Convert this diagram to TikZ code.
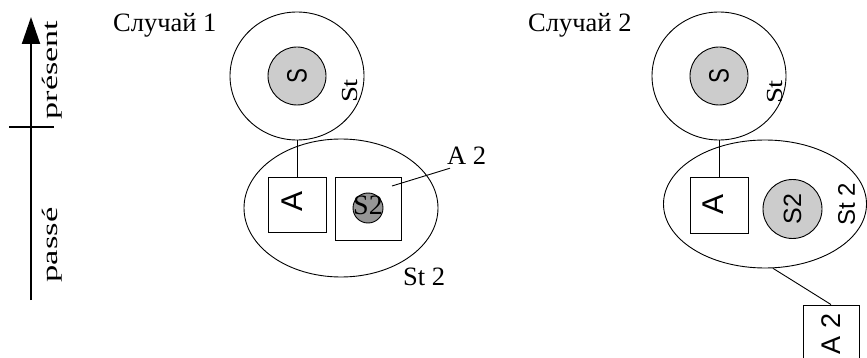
\documentclass[tikz,border=0pt]{standalone}
\usepackage{fontspec}
\setmainfont{Liberation Serif}
\newfontfamily\sansf{Liberation Sans}
\usetikzlibrary{shapes.geometric,arrows.meta}
\definecolor{lgray}{RGB}{204,204,204}
\definecolor{dgray}{RGB}{150,150,150}
\newcommand{\fsz}[1]{\fontsize{#1}{#1}\selectfont}
\begin{document}
\begin{tikzpicture}[x=1pt,y=-1pt,
  thinline/.style={line width=0.9pt},
  ell/.style={ellipse, draw, thinline, inner sep=0pt},
  disc/.style={ellipse, draw, thinline, fill=lgray, inner sep=0pt},
  boxn/.style={rectangle, draw, thinline, inner sep=0pt},
  lbl/.style={inner sep=0pt, font=\fsz{26.5}},
  vlbl/.style={inner sep=0pt, rotate=90},
]
\useasboundingbox (0,0) rectangle (867,358);
% timeline
\coordinate (tbot) at (31,300);
\coordinate (ttop) at (31,17);
\draw[line width=2pt,-{Triangle[length=27pt,width=18pt]}] (tbot) -- (ttop);
\coordinate (tickl) at (9,127);
\coordinate (tickr) at (54,127);
\draw[line width=2pt] (tickl) -- (tickr);
\node[vlbl] (present) at (52.5,70) {\fsz{22}\scalebox{1.55}[1]{présent}};
\node[vlbl] (passe) at (52.5,245) {\fsz{22}\scalebox{1.57}[1]{passé}};
% case 1
\node[lbl, anchor=base west] (title1) at (113,32) {Случай 1};
\node[ell, minimum width=134pt, minimum height=128pt] (st1) at (297,76) {};
\node[disc, minimum size=58pt] (s1) at (297,76) {\rotatebox{90}{\sansf\fsz{28}\scalebox{0.8}[1]{S}}};
\node[vlbl] (st1lab) at (350,91) {\fsz{23}\scalebox{1.25}[1]{St}};
\node[ell, minimum width=194pt, minimum height=138pt] (st21) at (341,208) {};
\node[boxn, minimum width=58pt, minimum height=55pt] (a1) at (297,204.5) {};
\node[vlbl] (a1lab) at (292,201) {\sansf\fsz{30}A};
\node[boxn, minimum width=66pt, minimum height=63pt] (a21) at (368,208.5) {};
\node[disc, fill=dgray, minimum size=30pt] (s21) at (368,208) {};
\node[inner sep=0pt] (s21lab) at (368,205.5) {\fsz{28}S2};
\coordinate (a21p) at (392,186);
\node[lbl, anchor=base west] (a2lab) at (447,165) {A 2};
\draw[thinline] (a21p) -- ([shift={(3,3)}]a2lab.south west);
\node[lbl, anchor=base west] (st21lab) at (403,285) {St 2};
\draw[thinline] (st1.south) -- (a1.north);
% case 2
\node[lbl, anchor=base west] (title2) at (528,32) {Случай 2};
\node[ell, minimum width=134pt, minimum height=128pt] (st2) at (719,76) {};
\node[disc, minimum size=58pt] (s2) at (719,76) {\rotatebox{90}{\sansf\fsz{28}\scalebox{0.8}[1]{S}}};
\node[vlbl] (st2lab) at (775,92) {\fsz{23}\scalebox{1.25}[1]{St}};
\node[ell, minimum width=203pt, minimum height=128pt] (st22) at (765,204) {};
\node[boxn, minimum width=58pt, minimum height=56pt] (a2) at (719,205) {};
\node[vlbl] (a2lab2) at (713,204) {\sansf\fsz{30}A};
\node[disc, minimum size=59pt] (s22) at (792.5,209) {\rotatebox{90}{\sansf\fsz{25}S2}};
\node[vlbl] (st22lab) at (846.5,204) {\sansf\fsz{24}St 2};
\node[boxn, minimum width=56pt, minimum height=60pt] (a22) at (831,335) {};
\node[vlbl] (a22lab) at (831,334) {\sansf\fsz{27}A 2};
\draw[thinline] (st2.south) -- (a2.north);
\draw[thinline] (st22.-83) -- (a22.north);
\end{tikzpicture}
\end{document}
